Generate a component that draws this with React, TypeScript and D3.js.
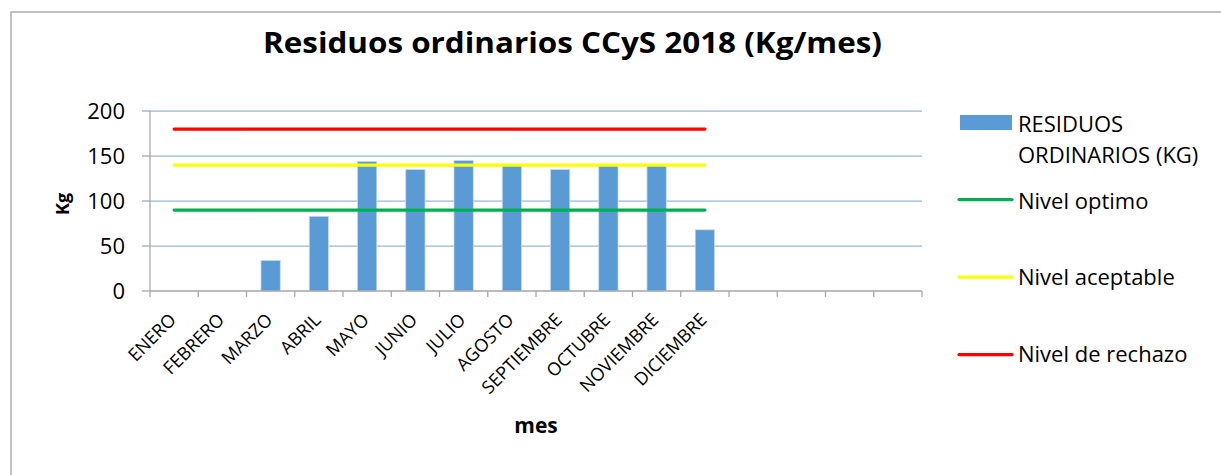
import React from "react";
import * as d3 from "d3";

const months = [
  "ENERO", "FEBRERO", "MARZO", "ABRIL", "MAYO", "JUNIO", "JULIO", "AGOSTO",
  "SEPTIEMBRE", "OCTUBRE", "NOVIEMBRE", "DICIEMBRE", "", "", "", "",
];
const residuos = [0, 0, 34, 83, 144, 135, 145, 140, 135, 140, 140, 68];
const nivelOptimo = [90, 90, 90, 90, 90, 90, 90, 90, 90, 90, 90, 90];
const nivelAceptable = [140, 140, 140, 140, 140, 140, 140, 140, 140, 140, 140, 140];
const nivelRechazo = [180, 180, 180, 180, 180, 180, 180, 180, 180, 180, 180, 180];
const yTicks = [0, 50, 100, 150, 200];

const W = 1221;
const H = 475;
const plot = { left: 150, right: 922, top: 111, bottom: 291 };
const FONT = "'Open Sans', 'Noto Sans', sans-serif";

export default function App() {
  const idx = months.map((_, i) => String(i));
  const x = d3.scaleBand<string>().domain(idx).range([plot.left, plot.right]).padding(0);
  const y = d3.scaleLinear().domain([0, 200]).range([plot.bottom, plot.top]);
  const bw = x.bandwidth() / 2.5;
  const cx = (i: number) => (x(String(i)) as number) + x.bandwidth() / 2;

  const line = d3
    .line<number>()
    .x((_, i) => cx(i))
    .y((d) => y(d));

  const series = [
    { name: "Nivel optimo", data: nivelOptimo, color: "#00B050", ly: 199.5, ty: 209 },
    { name: "Nivel aceptable", data: nivelAceptable, color: "#FFFF00", ly: 277, ty: 285 },
    { name: "Nivel de rechazo", data: nivelRechazo, color: "#FF0000", ly: 354.5, ty: 362 },
  ];

  const ticksX = d3.range(months.length + 1).map((i) =>
    i < months.length ? (x(String(i)) as number) : plot.right
  );

  return (
    <svg
      width={W}
      height={H}
      style={{ position: "absolute", left: 0, top: 0, background: "#fff" }}
      fontFamily={FONT}
    >
      <rect x={0} y={0} width={W} height={H} fill="#fff" />
      <rect x={11} y={12} width={1400} height={700} fill="#fff" stroke="#ADADAD" strokeWidth={1.5} />

      {/* title */}
      <text
        x={572.5}
        y={53}
        textAnchor="middle"
        fontSize={29}
        fontWeight="bold"
        textLength={619}
        lengthAdjust="spacingAndGlyphs"
        fill="#000"
      >
        Residuos ordinarios CCyS 2018 (Kg/mes)
      </text>

      {/* gridlines */}
      {yTicks.filter((t) => t > 0).map((t) => (
        <line key={t} x1={plot.left} x2={plot.right} y1={y(t)} y2={y(t)} stroke="#95B8DE" strokeWidth={1.25} />
      ))}

      {/* bars */}
      {residuos.map((v, i) =>
        v > 0 ? (
          <rect
            key={i}
            x={cx(i) - bw / 2}
            y={y(v)}
            width={bw}
            height={y(0) - y(v)}
            fill="#5B9BD5"
            stroke="#C9DDF0"
            strokeWidth={0.75}
          />
        ) : null
      )}

      {/* level lines */}
      {series.map((s) => (
        <path key={s.name} d={line(s.data) as string} fill="none" stroke={s.color} strokeWidth={3.25} strokeLinecap="round" />
      ))}

      {/* y axis */}
      <line x1={plot.left} x2={plot.left} y1={plot.top} y2={plot.bottom} stroke="#A6A6A6" strokeWidth={1.25} />
      {yTicks.map((t) => (
        <g key={t}>
          <line x1={plot.left - 8} x2={plot.left} y1={y(t)} y2={y(t)} stroke="#A6A6A6" strokeWidth={1.25} />
          <text x={125} y={y(t) + 8} textAnchor="end" fontSize={22} fill="#000">
            {t}
          </text>
        </g>
      ))}

      {/* x axis */}
      <line x1={plot.left} x2={plot.right} y1={plot.bottom} y2={plot.bottom} stroke="#A6A6A6" strokeWidth={1.5} />
      {ticksX.map((tx, i) => (
        <line key={i} x1={tx} x2={tx} y1={plot.bottom} y2={plot.bottom + 6} stroke="#A6A6A6" strokeWidth={1.25} />
      ))}
      {months.map((m, i) =>
        m ? (
          <text
            key={i}
            transform={`translate(${cx(i) + 3},${321}) rotate(-45)`}
            textAnchor="end"
            fontSize={18}
            fill="#000"
          >
            {m}
          </text>
        ) : null
      )}

      {/* axis titles */}
      <text x={536} y={433} textAnchor="middle" fontSize={21} fontWeight="bold" fill="#000">
        mes
      </text>
      <text transform="translate(69,204) rotate(-90)" textAnchor="middle" fontSize={18} fontWeight="bold" fill="#000">
        Kg
      </text>

      {/* legend */}
      <rect x={960} y={115} width={52} height={15} fill="#5B9BD5" />
      <text x={1018} y={132} fontSize={22} fill="#000">RESIDUOS</text>
      <text x={1018} y={163} fontSize={22} fill="#000">ORDINARIOS (KG)</text>
      {series.map((s) => (
        <g key={s.name}>
          <line x1={959} x2={1012} y1={s.ly} y2={s.ly} stroke={s.color} strokeWidth={3.25} strokeLinecap="round" />
          <text x={1018} y={s.ty} fontSize={22} fill="#000">
            {s.name}
          </text>
        </g>
      ))}
    </svg>
  );
}
